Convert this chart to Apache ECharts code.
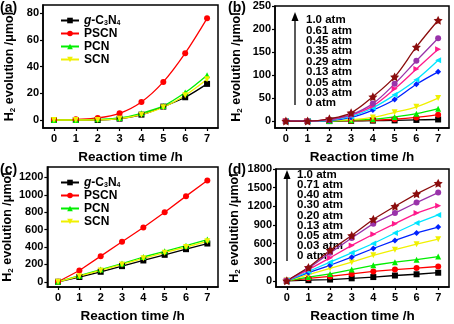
<!DOCTYPE html>
<html>
<head>
<meta charset="utf-8">
<script src="https://cdn.jsdelivr.net/npm/echarts@6/dist/echarts.min.js"></script>
<style>html,body{margin:0;padding:0;background:#fff}#c{width:454px;height:324px}</style>
</head>
<body>
<div id="c"></div>
<script>
// ---------- data ----------
const hours = [0, 1, 2, 3, 4, 5, 6, 7];
const xTicks = [0, 1, 2, 3, 4, 5, 6, 7];

// (a) series names
const sampleNames = ['g-C3N4', 'PSCN', 'PCN', 'SCN'];
// (a) H2 evolution (µmol)
const aG = [0, 0, 0, 1, 4, 10, 17, 27];
const aPSCN = [0, 0.5, 1.5, 5, 13.5, 28.5, 50, 76];
const aPCN = [0, 0, 0.5, 1.5, 5, 10.5, 20.5, 33.5];
const aSCN = [0, 0, 0, 1, 4, 9.5, 18.5, 30.5];
const aYTicks = [0, 20, 40, 60, 80];

// (b) pressure series (low -> high)
const bLabels = ['1.0 atm', '0.61 atm', '0.45 atm', '0.35 atm', '0.29 atm', '0.13 atm', '0.05 atm', '0.03 atm', '0 atm'];
const b0 = [0, 0, 0, 0.5, 1, 1.5, 2.5, 3.5];
const b003 = [0, 0, 0, 1, 2, 4, 8, 14];
const b005 = [0, 0, 0, 2, 4, 9, 16, 27];
const b013 = [0, 0, 1, 3, 8, 19, 31, 50];
const b029 = [0, 0, 1, 8, 24, 47, 80, 107];
const b035 = [0, 0, 2, 10, 29, 57, 90, 132];
const b045 = [0, 0, 3, 13, 33, 70, 113, 156];
const b061 = [0, 0, 3, 14, 38, 81, 131, 180];
const b10 = [0, 0, 5, 18, 53, 96, 161, 219];
const bYTicks = [0, 50, 100, 150, 200, 250];

// (c)
const cG = [0, 55, 115, 180, 245, 310, 375, 440];
const cPSCN = [0, 130, 295, 460, 625, 800, 985, 1165];
const cPCN = [0, 70, 140, 210, 285, 350, 415, 485];
const cSCN = [0, 65, 130, 200, 270, 335, 400, 465];
const cYTicks = [0, 200, 400, 600, 800, 1000, 1200];

// (d)
const dLabels = ['1.0 atm', '0.71 atm', '0.40 atm', '0.30 atm', '0.20 atm', '0.13 atm', '0.05 atm', '0.03 atm', '0 atm'];
const d0 = [0, 10, 20, 40, 60, 85, 105, 130];
const d003 = [0, 40, 70, 110, 150, 180, 205, 230];
const d005 = [0, 60, 110, 180, 250, 300, 340, 390];
const d013 = [0, 100, 200, 300, 410, 500, 590, 670];
const d020 = [0, 130, 250, 380, 520, 650, 770, 865];
const d030 = [0, 150, 300, 450, 600, 770, 930, 1060];
const d040 = [0, 180, 370, 570, 750, 920, 1090, 1210];
const d071 = [0, 200, 450, 690, 920, 1090, 1260, 1420];
const d10 = [0, 215, 490, 730, 990, 1200, 1400, 1570];
const dYTicks = [0, 300, 600, 900, 1200, 1500, 1800];

// ---------- styles ----------
const FF = '"Liberation Sans", Arial, sans-serif';
const STAR = 'path://M0,-10L2.94,-4.05L9.51,-3.09L4.76,1.55L5.88,8.09L0,5L-5.88,8.09L-4.76,1.55L-9.51,-3.09L-2.94,-4.05Z';
const DOWN = 'path://M-10,-8L10,-8L0,10Z';
const LEFT = 'path://M-10,0L8,-10L8,10Z';
const RIGHT = 'path://M10,0L-8,-10L-8,10Z';
const sty = [
  {c: '#000000', s: 'rect'},
  {c: '#ff0000', s: 'circle'},
  {c: '#00ee00', s: 'triangle'},
  {c: '#f0f000', s: DOWN},
  {c: '#0022ff', s: 'diamond'},
  {c: '#00e5ff', s: LEFT},
  {c: '#ff1a8c', s: RIGHT},
  {c: '#9933aa', s: 'circle'},
  {c: '#8b0d0d', s: STAR}
];

function mk(name, vals, g, st, smooth, size) {
  return {
    name: name, type: 'line', xAxisIndex: g, yAxisIndex: g,
    data: vals.map((v, i) => [hours[i], v]),
    smooth: smooth, symbol: st.s, symbolSize: size || 6,
    showSymbol: true,
    lineStyle: {color: st.c, width: 1.3},
    itemStyle: {color: st.c, borderWidth: 0},
    z: 3
  };
}

const grids = [
  {left: 43, top: 5, width: 175, height: 123},
  {left: 275, top: 6, width: 174, height: 122},
  {left: 43, top: 167, width: 175, height: 124},
  {left: 276, top: 169, width: 173, height: 122}
].map(g => Object.assign(g, {show: true, borderColor: '#000', borderWidth: 1.5, containLabel: false}));

function xAx(i) {
  return {
    gridIndex: i, type: 'value', min: -0.5, max: 7.5,
    axisLine: {show: true, onZero: false, lineStyle: {color: '#000', width: 1.5}},
    axisTick: {show: true, customValues: xTicks, length: 3, lineStyle: {color: '#000', width: 1.2}},
    axisLabel: {customValues: xTicks, formatter: v => String(v), color: '#000', fontWeight: 'bold', fontSize: 11, fontFamily: FF, margin: 5},
    splitLine: {show: false},
    name: 'Reaction time /h', nameLocation: 'middle', nameGap: 22,
    nameTextStyle: {color: '#000', fontWeight: 'bold', fontSize: 13.5, fontFamily: FF}
  };
}
function yAx(i, min, max, ticks, gap) {
  return {
    gridIndex: i, type: 'value', min: min, max: max,
    axisLine: {show: true, onZero: false, lineStyle: {color: '#000', width: 1.5}},
    axisTick: {show: true, customValues: ticks, length: 3, lineStyle: {color: '#000', width: 1.2}},
    axisLabel: {customValues: ticks, formatter: v => String(v), color: '#000', fontWeight: 'bold', fontSize: 11, fontFamily: FF, margin: 4},
    splitLine: {show: false},
    name: '{b|H}{s|2}{b| evolution /μmol}', nameLocation: 'middle', nameGap: gap, nameRotate: 90,
    nameTextStyle: {
      color: '#000', fontFamily: FF,
      rich: {
        b: {fontWeight: 'bold', fontSize: 12.5, fontFamily: FF, color: '#000'},
        s: {fontWeight: 'bold', fontSize: 8, fontFamily: FF, color: '#000', padding: [7, 0, 0, 0]}
      }
    }
  };
}

const series = [];
const aVals = [aG, aPSCN, aPCN, aSCN];
const cVals = [cG, cPSCN, cPCN, cSCN];
aVals.forEach((v, k) => series.push(mk(sampleNames[k], v, 0, sty[k], 0.35, 6)));
const bVals = [b0, b003, b005, b013, b029, b035, b045, b061, b10];
bVals.forEach((v, k) => series.push(mk('b' + k, v, 1, sty[k], 0.35, k === 8 ? 9 : 6)));
cVals.forEach((v, k) => series.push(mk(sampleNames[k], v, 2, sty[k], false, 6)));
const dVals = [d0, d003, d005, d013, d020, d030, d040, d071, d10];
dVals.forEach((v, k) => series.push(mk('d' + k, v, 3, sty[k], false, k === 8 ? 9 : 6)));

function fmtName(n) {
  if (n === 'g-C3N4') return '{i|g}{t|-C}{s|3}{t|N}{s|4}';
  return '{t|' + n + '}';
}
const legRich = {
  t: {fontWeight: 'bold', fontSize: 12, fontFamily: FF, color: '#000'},
  i: {fontWeight: 'bold', fontStyle: 'italic', fontSize: 12, fontFamily: FF, color: '#000'},
  s: {fontWeight: 'bold', fontSize: 7, fontFamily: FF, color: '#000', padding: [6, 0, 0, 0]}
};
function legend(top) {
  return {
    data: sampleNames, orient: 'vertical', left: 55, top: top,
    itemWidth: 18, itemHeight: 7, itemGap: 0,
    formatter: fmtName, selectedMode: false,
    textStyle: {rich: legRich, lineHeight: 13, padding: [0, 0, 0, 0]}
  };
}

const graphic = [];
function pressureText(labels, x, y0, step, ax, ay0, ay1) {
  labels.forEach((t, k) => graphic.push({
    type: 'text', left: x, top: y0 + k * step,
    style: {text: t, font: 'bold 11.5px ' + FF, fill: '#000'}
  }));
  graphic.push({type: 'line', shape: {x1: ax, y1: ay1, x2: ax, y2: ay0 + 6}, style: {stroke: '#000', lineWidth: 1.3}});
  graphic.push({type: 'polygon', shape: {points: [[ax, ay0], [ax - 3.5, ay0 + 9], [ax + 3.5, ay0 + 9]]}, style: {fill: '#000'}});
}
pressureText(bLabels, 306, 14, 10.4, 295, 12, 105);
pressureText(dLabels, 297, 169, 10.1, 287, 170, 261);

const titles = ['(a)', '(b)', '(c)', '(d)'].map((t, k) => ({
  text: t, left: [0, 228, 0, 228][k], top: [1, 1, 163, 163][k], padding: 0,
  textStyle: {fontWeight: 'bold', fontSize: 14, fontFamily: FF, color: '#000'}
}));

const chart = echarts.init(document.getElementById('c'), null, {renderer: 'canvas'});
chart.setOption({
  animation: false,
  backgroundColor: '#fff',
  title: titles,
  grid: grids,
  xAxis: [xAx(0), xAx(1), xAx(2), xAx(3)],
  yAxis: [
    yAx(0, -6, 86, aYTicks, 26),
    yAx(1, -15, 250, bYTicks, 31),
    yAx(2, -60, 1320, cYTicks, 32),
    yAx(3, -100, 1800, dYTicks, 34)
  ],
  legend: [legend(9), legend(171)],
  graphic: graphic,
  series: series
});
</script>
</body>
</html>
